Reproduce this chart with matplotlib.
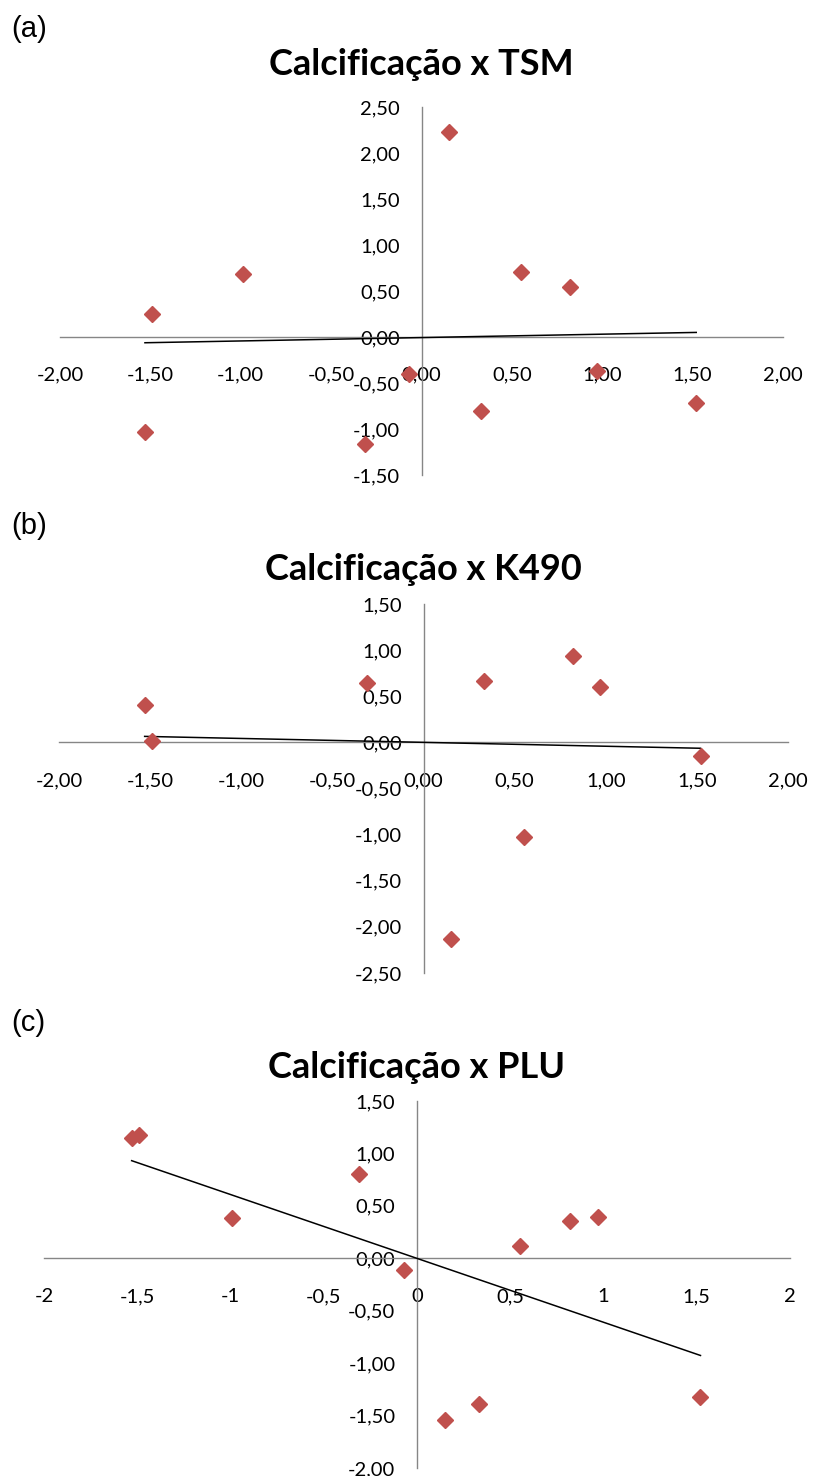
import numpy as np
import matplotlib
matplotlib.use('Agg')
import matplotlib.pyplot as plt

# Calcificação padronizada (eixo x), a mesma nos três gráficos
calcificacao = [-1.53, -1.49, -0.99, -0.31, -0.07, 0.15, 0.33, 0.55, 0.82, 0.97, 1.52]

# variáveis ambientais padronizadas (eixo y); nan = sem dado
tsm = [-1.03, 0.25, 0.68, -1.16, -0.40, 2.23, -0.80, 0.71, 0.54, -0.37, -0.72]
k490 = [0.40, 0.02, np.nan, 0.64, np.nan, -2.13, 0.67, -1.03, 0.94, 0.60, -0.15]
plu = [1.15, 1.18, 0.38, 0.80, -0.11, -1.54, -1.39, 0.12, 0.36, 0.39, -1.32]

letras = ['(a)', '(b)', '(c)']
titulos = ['Calcificação x TSM', 'Calcificação x K490', 'Calcificação x PLU']

xticks = [-2, -1.5, -1, -0.5, 0, 0.5, 1, 1.5, 2]
yticks_a = [-1.5, -1, -0.5, 0, 0.5, 1, 1.5, 2, 2.5]
yticks_b = [-2.5, -2, -1.5, -1, -0.5, 0, 0.5, 1, 1.5]
yticks_c = [-2, -1.5, -1, -0.5, 0, 0.5, 1, 1.5]

# posição de cada gráfico em pixels: esquerda, direita, topo, base, linha de base do título
W, H = 813, 1476
caixas = [(60, 783, 107, 475, 75),
          (59, 788, 604, 973, 580),
          (44, 790, 1101, 1468, 1078)]

plt.rcParams['font.family'] = 'Lato'


def virgula2(v):
    return ('%.2f' % v).replace('.', ',')


def virgula_g(v):
    return ('%g' % v).replace('.', ',')


def grafico(fig, caixa, x, y, titulo, letra, yticks, fmt_x):
    esq, dir, topo, base, tit = caixa
    ax = fig.add_axes([esq / W, 1 - base / H, (dir - esq) / W, (base - topo) / H])
    x = np.array(x)
    y = np.array(y)
    ok = ~np.isnan(y)

    ax.plot(x[ok], y[ok], 'D', color='#C0504D', ms=8.5, zorder=4, clip_on=False)
    # linha de tendência linear (como no Excel)
    a, b = np.polyfit(x[ok], y[ok], 1)
    xs = np.array([x[ok].min(), x[ok].max()])
    ax.plot(xs, a * xs + b, color='black', lw=1.1, zorder=3)

    ax.set_xlim(xticks[0], xticks[-1])
    ax.set_ylim(yticks[0], yticks[-1])
    ax.spines[['top', 'right']].set_visible(False)
    for s in ['left', 'bottom']:
        ax.spines[s].set_position(('data', 0))
        ax.spines[s].set_color('#868686')
        ax.spines[s].set_linewidth(1)
    ax.set_xticks(xticks)
    ax.set_xticklabels([fmt_x(v) for v in xticks])
    ax.set_yticks(yticks)
    ax.set_yticklabels([virgula2(v) for v in yticks])
    ax.tick_params(length=0, labelsize=14.5, colors='black')
    ax.tick_params(axis='x', pad=21.5)
    ax.tick_params(axis='y', pad=15.5)
    ax.patch.set_alpha(0)

    fig.text((esq + dir) / 2 / W, 1 - tit / H, titulo, ha='center', va='baseline',
             fontsize=26, fontweight='bold')
    fig.text(11 / W, 1 - (topo - 92) / H, letra, ha='left', va='top',
             fontsize=21, family='Liberation Sans')
    return ax


fig = plt.figure(figsize=(W / 100, H / 100), dpi=100)
grafico(fig, caixas[0], calcificacao, tsm, titulos[0], letras[0], yticks_a, virgula2)
grafico(fig, caixas[1], calcificacao, k490, titulos[1], letras[1], yticks_b, virgula2)
grafico(fig, caixas[2], calcificacao, plu, titulos[2], letras[2], yticks_c, virgula_g)
fig.savefig('out.png', dpi=100)
